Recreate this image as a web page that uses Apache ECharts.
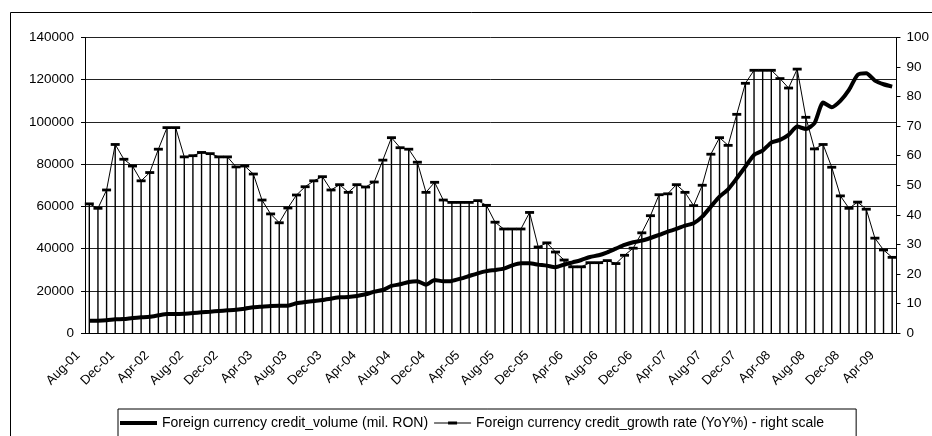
<!DOCTYPE html>
<html><head><meta charset="utf-8">
<script src="https://cdn.jsdelivr.net/npm/echarts@6/dist/echarts.min.js"></script>
<style>html,body{margin:0;padding:0;background:#fff}#c{width:932px;height:436px}</style>
</head><body><div id="c"></div>
<script>
const categories = [
"Aug-01","Sep-01","Oct-01","Nov-01","Dec-01",
"Jan-02","Feb-02","Mar-02","Apr-02","May-02","Jun-02","Jul-02","Aug-02","Sep-02","Oct-02","Nov-02","Dec-02",
"Jan-03","Feb-03","Mar-03","Apr-03","May-03","Jun-03","Jul-03","Aug-03","Sep-03","Oct-03","Nov-03","Dec-03",
"Jan-04","Feb-04","Mar-04","Apr-04","May-04","Jun-04","Jul-04","Aug-04","Sep-04","Oct-04","Nov-04","Dec-04",
"Jan-05","Feb-05","Mar-05","Apr-05","May-05","Jun-05","Jul-05","Aug-05","Sep-05","Oct-05","Nov-05","Dec-05",
"Jan-06","Feb-06","Mar-06","Apr-06","May-06","Jun-06","Jul-06","Aug-06","Sep-06","Oct-06","Nov-06","Dec-06",
"Jan-07","Feb-07","Mar-07","Apr-07","May-07","Jun-07","Jul-07","Aug-07","Sep-07","Oct-07","Nov-07","Dec-07",
"Jan-08","Feb-08","Mar-08","Apr-08","May-08","Jun-08","Jul-08","Aug-08","Sep-08","Oct-08","Nov-08","Dec-08",
"Jan-09","Feb-09","Mar-09","Apr-09","May-09"];

const volume = [
5850,5850,6000,6480,6640,7110,7430,7740,8370,9000,9000,9160,9480,9800,10110,10430,10740,11060,11530,12160,
12480,12800,12950,12950,14060,14690,15170,15640,16270,16900,17060,17540,18330,19590,20380,22280,23070,24170,24490,22900,
25120,24490,24650,25750,27010,28280,29300,29860,30490,32070,33020,33020,32390,31910,31120,32390,33490,34600,36020,36810,
38230,39970,41700,42970,43760,45020,46450,48020,49290,50870,51980,55130,59870,64610,68090,73300,78830,84360,86410,90200,
91470,93840,97790,96680,99370,109160,106950,109950,115170,122270,123060,119590,117850,116740];

const growth = [
43.7,42.2,48.4,63.8,58.8,56.5,51.5,54.3,62.2,69.5,69.5,59.6,60.0,61.1,60.7,59.6,59.6,56.2,56.5,53.8,
45.0,40.3,37.3,42.3,46.7,49.5,51.5,52.9,48.4,50.2,47.6,50.2,49.4,51.1,58.5,66.1,62.7,62.2,57.8,47.6,
51.0,45.0,44.2,44.2,44.2,44.8,43.2,37.5,35.2,35.2,35.2,40.8,29.1,30.5,27.4,24.7,22.4,22.4,23.8,23.8,
24.5,23.5,26.3,28.7,33.9,39.7,46.8,47.1,50.2,47.6,43.1,50.0,60.5,66.1,63.5,74.0,84.5,88.9,88.9,88.9,
86.1,82.9,89.3,73.0,62.3,63.8,56.1,46.4,42.2,44.3,41.9,32.1,28.1,25.6];

const leftTicks = [0,20000,40000,60000,80000,100000,120000,140000];
const rightTicks = [0,10,20,30,40,50,60,70,80,90,100];

const volName = "Foreign currency credit_volume (mil. RON)";
const growName = "Foreign currency credit_growth rate (YoY%) - right scale";
const FONT = "Liberation Sans";

const chart = echarts.init(document.getElementById('c'), null, {renderer:'canvas'});
chart.setOption({
  animation:false,
  backgroundColor:'#fff',
  textStyle:{fontFamily:FONT,color:'#000'},
  graphic:[{type:'rect',shape:{x:10.5,y:12.5,width:1000,height:1000},style:{fill:null,stroke:'#000',lineWidth:1},silent:true,z:-10}],
  grid:{left:85,right:35,top:37.5,bottom:103,containLabel:false},
  legend:{
    data:[
      {name:volName, icon:'path://M0,0 L37,0 L37,4 L0,4 Z'},
      {name:growName, icon:'path://M0,1 L37,1 L37,2 L0,2 Z M14,0 L23,0 L23,3 L14,3 Z'}
    ],
    left:118, top:409,
    itemWidth:37, itemHeight:10, itemGap:6,
    padding:[7,32,9,2],
    borderColor:'#000', borderWidth:1, backgroundColor:'#fff',
    textStyle:{fontFamily:FONT,fontSize:14,color:'#000'}
  },
  xAxis:{
    type:'category', data:categories, boundaryGap:true,
    axisLine:{lineStyle:{color:'#000',width:1}},
    axisTick:{interval:3,length:4,lineStyle:{color:'#000'}},
    axisLabel:{interval:3,rotate:45,fontSize:13,color:'#000',fontFamily:FONT,margin:9,padding:[0,16,0,0]}
  },
  yAxis:[{
    type:'value', min:leftTicks[0], max:leftTicks[leftTicks.length-1], interval:leftTicks[1]-leftTicks[0],
    axisLine:{show:true,lineStyle:{color:'#000'}},
    axisTick:{show:true,length:4,lineStyle:{color:'#000'}},
    axisLabel:{fontSize:13.5,color:'#000',fontFamily:FONT,margin:11,formatter:v=>String(v)},
    splitLine:{show:true,lineStyle:{color:'#222',width:1}}
  },{
    type:'value', min:rightTicks[0], max:rightTicks[rightTicks.length-1], interval:rightTicks[1]-rightTicks[0],
    position:'right',
    axisLine:{show:true,lineStyle:{color:'#000'}},
    axisTick:{show:true,length:4,lineStyle:{color:'#000'}},
    axisLabel:{fontSize:13.5,color:'#000',fontFamily:FONT,margin:10,formatter:v=>String(v)},
    splitLine:{show:false}
  }],
  series:[
    {name:'drop', type:'bar', yAxisIndex:1, data:growth, barWidth:1.4,
     itemStyle:{color:'#000'}, silent:true, z:1},
    {name:growName, type:'line', yAxisIndex:1, data:growth,
     symbol:'rect', symbolSize:[9,2.8], showAllSymbol:true,
     lineStyle:{color:'#000',width:1}, itemStyle:{color:'#000'}, z:3},
    {name:volName, type:'line', yAxisIndex:0, data:volume,
     symbol:'none', smooth:0.2,
     lineStyle:{color:'#000',width:4}, itemStyle:{color:'#000'}, z:4}
  ]
});
</script></body></html>
